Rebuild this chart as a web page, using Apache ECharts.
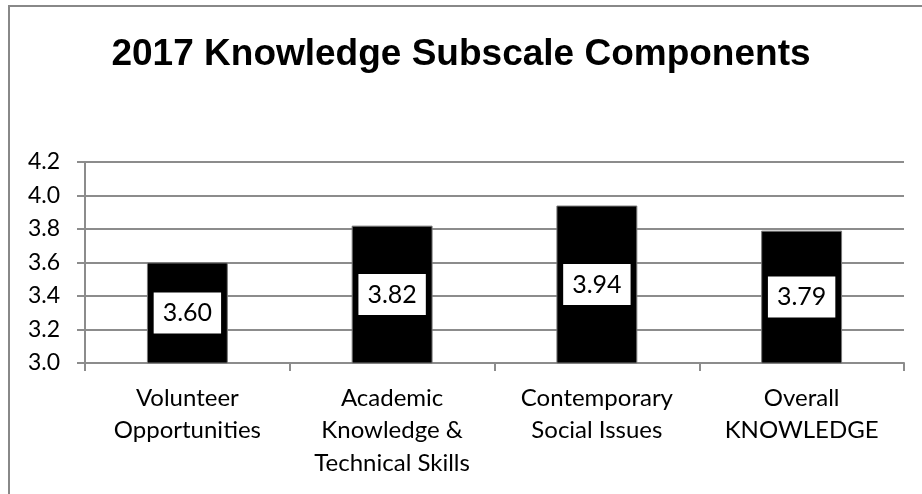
<!DOCTYPE html>
<html>
<head>
<meta charset="utf-8">
<script src="https://cdn.jsdelivr.net/npm/echarts@6/dist/echarts.min.js"></script>
<style>
html,body{margin:0;padding:0;background:#fff;}
#chart{width:922px;height:494px;}
</style>
</head>
<body>
<div id="chart"></div>
<script>
const titleText = '2017 Knowledge Subscale Components';
const categories = ['Volunteer\nOpportunities', 'Academic\nKnowledge &\nTechnical Skills', 'Contemporary\nSocial Issues', 'Overall\nKNOWLEDGE'];
const values = [3.60, 3.82, 3.94, 3.79];
const yMin = 3.0;
const yMax = 4.2;
const yStep = 0.2;

const chart = echarts.init(document.getElementById('chart'));
chart.setOption({
  animation: false,
  backgroundColor: '#fff',
  title: {
    text: titleText,
    left: 'center',
    top: 31,
    textStyle: { fontFamily: 'Liberation Sans', fontWeight: 'bold', fontSize: 37, color: '#000' }
  },
  graphic: [{
    type: 'rect',
    shape: { x: 9, y: 6, width: 1000, height: 1000 },
    style: { fill: 'none', stroke: '#888', lineWidth: 2 },
    silent: true
  }],
  grid: { left: 85, right: 18, top: 162, bottom: 131 },
  xAxis: {
    type: 'category',
    data: categories,
    axisLine: { show: true, lineStyle: { color: '#8c8c8c', width: 2 } },
    axisTick: { show: true, length: 8, lineStyle: { color: '#8c8c8c', width: 2 } },
    axisLabel: { fontFamily: 'Lato', fontSize: 24, color: '#000', lineHeight: 32.5, margin: 19, interval: 0 }
  },
  yAxis: {
    type: 'value',
    min: yMin,
    max: yMax,
    interval: yStep,
    axisLine: { show: true, lineStyle: { color: '#8c8c8c', width: 2 } },
    axisTick: { show: true, length: 8, lineStyle: { color: '#8c8c8c', width: 2 } },
    splitLine: { show: true, lineStyle: { color: '#8c8c8c', width: 2 } },
    axisLabel: { fontFamily: 'Lato', fontSize: 23, color: '#000', margin: 25, formatter: v => v.toFixed(1) }
  },
  series: [{
    type: 'bar',
    data: values,
    barWidth: '39.5%',
    itemStyle: { color: '#000', borderColor: '#777', borderWidth: 1 },
    label: {
      show: true,
      position: 'inside',
      formatter: p => p.value.toFixed(2),
      fontFamily: 'Lato',
      fontSize: 25,
      color: '#000',
      backgroundColor: '#fff',
      padding: [8, 9]
    }
  }]
});
</script>
</body>
</html>
